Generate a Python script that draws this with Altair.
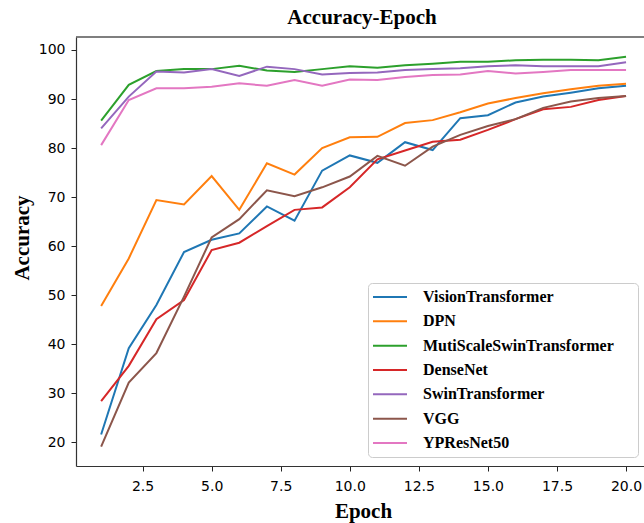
import altair as alt
import pandas as pd

epochs = list(range(1, 21))

names = [
    "VisionTransformer",
    "DPN",
    "MutiScaleSwinTransformer",
    "DenseNet",
    "SwinTransformer",
    "VGG",
    "YPResNet50",
]
colors = ["#1f77b4", "#ff7f0e", "#2ca02c", "#d62728", "#9467bd", "#8c564b", "#e377c2"]

vision_transformer = [21.6, 39.2, 48.0, 58.8, 61.3, 62.6, 68.1, 65.2, 75.4, 78.5,
                      77.0, 81.2, 79.6, 86.1, 86.7, 89.3, 90.5, 91.3, 92.2, 92.7]
dpn = [47.8, 57.5, 69.4, 68.5, 74.3, 67.4, 76.9, 74.6, 80.0, 82.2,
       82.3, 85.1, 85.7, 87.3, 89.1, 90.2, 91.2, 92.0, 92.7, 93.1]
multiscale_swin = [85.6, 92.9, 95.7, 96.1, 96.1, 96.8, 95.8, 95.5, 96.1, 96.7,
                   96.4, 96.9, 97.2, 97.6, 97.6, 97.9, 98.0, 98.0, 97.9, 98.6]
densenet = [28.4, 35.6, 45.1, 49.0, 59.2, 60.7, 64.1, 67.4, 67.9, 72.0,
            77.7, 79.5, 81.3, 81.7, 83.7, 85.9, 87.9, 88.4, 89.8, 90.6]
swin = [84.0, 90.5, 95.6, 95.4, 96.1, 94.7, 96.6, 96.1, 95.0, 95.3,
        95.4, 95.9, 96.1, 96.3, 96.7, 96.9, 96.7, 96.7, 96.7, 97.5]
vgg = [19.1, 32.2, 38.2, 49.7, 61.8, 65.5, 71.4, 70.2, 72.0, 74.2,
       78.4, 76.4, 80.3, 82.7, 84.5, 85.9, 88.2, 89.5, 90.2, 90.6]
ypresnet50 = [80.6, 89.8, 92.2, 92.2, 92.5, 93.2, 92.7, 93.9, 92.7, 94.0,
              93.9, 94.5, 94.9, 95.0, 95.7, 95.2, 95.5, 95.9, 95.9, 95.9]

series = [vision_transformer, dpn, multiscale_swin, densenet, swin, vgg, ypresnet50]

x_ticks = [2.5, 5.0, 7.5, 10.0, 12.5, 15.0, 17.5, 20.0]
y_ticks = [20, 30, 40, 50, 60, 70, 80, 90, 100]

rows = []
for name, vals in zip(names, series):
    for e, v in zip(epochs, vals):
        rows.append({"Epoch": e, "Accuracy": v, "Model": name})
df = pd.DataFrame(rows)

W, H = 568, 429
serif = "Liberation Serif"
sans = "DejaVu Sans"

lines = alt.Chart(df).mark_line(strokeWidth=2, clip=True).encode(
    x=alt.X(
        "Epoch:Q",
        scale=alt.Scale(domain=[0.09, 20.65], nice=False, zero=False),
        axis=alt.Axis(
            values=x_ticks, format=".1f", title="Epoch",
            titleX=287, titleY=51, titleBaseline="alphabetic",
            titleAlign="center",
        ),
    ),
    y=alt.Y(
        "Accuracy:Q",
        scale=alt.Scale(domain=[15.17, 102.65], nice=False, zero=False),
        axis=alt.Axis(
            values=y_ticks, format="d", title="Accuracy",
            titleX=-47.7, titleY=200.5, titleBaseline="alphabetic",
            titleAlign="center", titleAngle=-90,
        ),
    ),
    color=alt.Color(
        "Model:N",
        scale=alt.Scale(domain=names, range=colors),
        sort=names,
        legend=alt.Legend(
            orient="none", legendX=292, legendY=246,
            title=" ", titleOrient="right", titlePadding=20, titleFontSize=16,
            symbolType="stroke", symbolSize=1156, symbolStrokeWidth=2,
            clipHeight=20, rowPadding=4.33, padding=4, labelOffset=15,
            labelFont=serif, labelFontWeight="bold", labelFontSize=16,
            labelColor="black", labelLimit=400,
            strokeColor="#cccccc", cornerRadius=4,
            fillColor="rgba(255,255,255,0.8)",
        ),
    ),
    order="Epoch:Q",
)

top_spine = alt.Chart(pd.DataFrame({"a": [0]})).mark_rule(
    color="#555555", strokeWidth=1.5
).encode(x=alt.value(0), x2=alt.value(W), y=alt.value(0))

chart = alt.layer(lines, top_spine).properties(
    width=W, height=H,
    title=alt.TitleParams(
        "Accuracy-Epoch", font=serif, fontSize=21, fontWeight="bold",
        color="black", baseline="alphabetic", offset=13, anchor="middle",
        dx=2, dy=21.5,
    ),
    padding={"left": 76, "top": 37, "right": 0, "bottom": 57},
    autosize="none",
).configure_view(stroke=None).configure_axis(
    grid=False,
    labelFont=sans, labelFontSize=14, labelColor="black",
    tickColor="#222222", tickSize=5, tickWidth=1,
    domainColor="#333333", domainWidth=1.2,
    titleFont=serif, titleFontSize=21, titleFontWeight="bold", titleColor="black",
).configure_axisX(labelPadding=8).configure_axisY(labelPadding=6)

chart.save("out.html", embed_options={"renderer": "svg", "actions": False})
